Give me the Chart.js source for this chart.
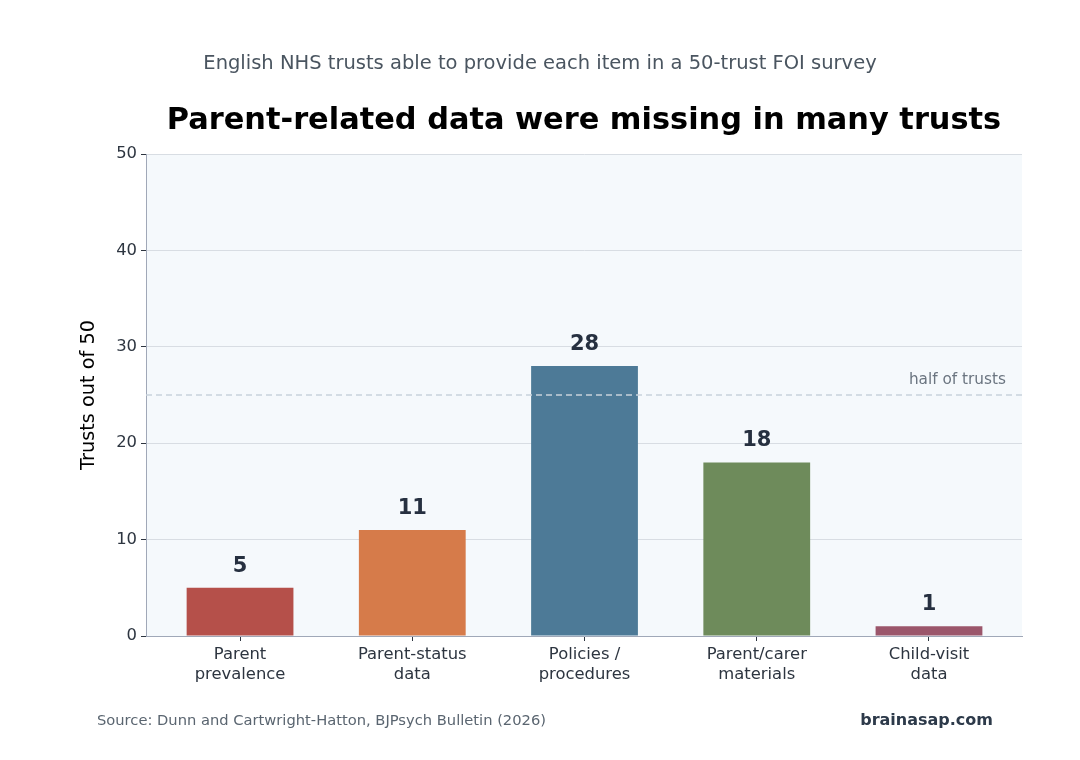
<!DOCTYPE html>
<html>
<head>
<meta charset="utf-8">
<script src="https://cdn.jsdelivr.net/npm/chart.js@4"></script>
<style>
  html, body { margin: 0; padding: 0; background: #ffffff; }
  #wrap { width: 1080px; height: 760px; position: relative; }
</style>
</head>
<body>
<div id="wrap"><canvas id="foiChart" width="1080" height="760"></canvas></div>
<script>
const categories = [['Parent', 'prevalence'], ['Parent-status', 'data'], ['Policies /', 'procedures'], ['Parent/carer', 'materials'], ['Child-visit', 'data']];
const trustCounts = [5, 11, 28, 18, 1];
const barColors = ['#b5504a', '#d67b4a', '#4d7a97', '#6e8b5b', '#9b566b'];
const yTicks = [0, 10, 20, 30, 40, 50];
const halfLine = 25;

const FONT = "'DejaVu Sans', sans-serif";

// background of the plot area, text around it, value labels and reference line
const decorations = {
    id: 'decorations',
    beforeDraw(chart) {
        const { ctx, chartArea: a } = chart;
        ctx.save();
        ctx.fillStyle = '#f5f9fc';
        ctx.fillRect(a.left, a.top, a.right - a.left, a.bottom - a.top);
        ctx.restore();
    },
    afterDatasetsDraw(chart) {
        const { ctx, chartArea: a, scales } = chart;
        ctx.save();
        // half of trusts
        const yHalf = scales.y.getPixelForValue(halfLine);
        ctx.strokeStyle = '#c8d2dc';
        ctx.lineWidth = 1.5;
        ctx.setLineDash([6, 4]);
        ctx.beginPath();
        ctx.moveTo(a.left, yHalf);
        ctx.lineTo(a.right, yHalf);
        ctx.stroke();
        ctx.setLineDash([]);
        ctx.fillStyle = '#6b7580';
        ctx.font = '15.3px ' + FONT;
        ctx.textAlign = 'right';
        ctx.textBaseline = 'bottom';
        ctx.fillText('half of trusts', a.right - 16, yHalf - 7);

        // value labels
        const meta = chart.getDatasetMeta(0);
        ctx.fillStyle = '#263040';
        ctx.font = 'bold 21px ' + FONT;
        ctx.textAlign = 'center';
        ctx.textBaseline = 'bottom';
        meta.data.forEach((bar, i) => {
            ctx.fillText(String(trustCounts[i]), bar.x, bar.y - 11);
        });
        ctx.restore();
    },
    afterDraw(chart) {
        const { ctx, chartArea: a } = chart;
        ctx.save();
        ctx.textBaseline = 'middle';
        ctx.textAlign = 'center';
        ctx.fillStyle = '#4a5560';
        ctx.font = '19.5px ' + FONT;
        ctx.fillText('English NHS trusts able to provide each item in a 50-trust FOI survey', 540, 64);

        ctx.fillStyle = '#000000';
        ctx.font = 'bold 30.4px ' + FONT;
        ctx.fillText('Parent-related data were missing in many trusts', (a.left + a.right) / 2, 121);

        // y axis title
        ctx.save();
        ctx.translate(89, (a.top + a.bottom) / 2);
        ctx.rotate(-Math.PI / 2);
        ctx.fillStyle = '#000000';
        ctx.font = '19.3px ' + FONT;
        ctx.fillText('Trusts out of 50', 0, 0);
        ctx.restore();

        ctx.textAlign = 'left';
        ctx.fillStyle = '#5a6570';
        ctx.font = '14.7px ' + FONT;
        ctx.fillText('Source: Dunn and Cartwright-Hatton, BJPsych Bulletin (2026)', 97, 721);
        ctx.textAlign = 'right';
        ctx.fillStyle = '#2d3a4a';
        ctx.font = 'bold 16px ' + FONT;
        ctx.fillText('brainasap.com', 993, 721);
        ctx.restore();
    }
};

new Chart(document.getElementById('foiChart').getContext('2d'), {
    type: 'bar',
    data: {
        datasets: [{
            data: trustCounts.map((v, i) => ({ x: i, y: v })),
            backgroundColor: barColors,
            borderWidth: 0,
            barPercentage: 0.62,
            categoryPercentage: 1.0
        }]
    },
    options: {
        responsive: false,
        animation: false,
        devicePixelRatio: 1,
        layout: { padding: { left: 0, right: 58, top: 154, bottom: 0 } },
        plugins: {
            legend: { display: false },
            tooltip: { enabled: false },
            title: { display: false }
        },
        scales: {
            x: {
                type: 'linear',
                offset: false,
                min: -0.546,
                max: categories.length - 1 + 0.54,
                afterFit(scale) { scale.height = 124; },
                afterBuildTicks(scale) { scale.ticks = categories.map((c, i) => ({ value: i })); },
                grid: { offset: false, drawOnChartArea: false, drawTicks: true, tickLength: 5, tickColor: '#2d3540' },
                border: { display: true, color: '#a0a8b8', width: 1 },
                ticks: {
                    color: '#2d3540',
                    font: { family: FONT, size: 16.4 },
                    padding: 4,
                    maxRotation: 0,
                    autoSkip: false,
                    callback: (value) => categories[value]
                }
            },
            y: {
                min: 0,
                max: 50,
                z: 1,
                afterFit(scale) { scale.width = 146; },
                afterBuildTicks(scale) { scale.ticks = yTicks.map(v => ({ value: v })); },
                grid: { color: '#d8dde3', lineWidth: 1, drawTicks: true, tickLength: 5, tickColor: '#2d3540' },
                border: { display: true, color: '#a0a8b8', width: 1 },
                ticks: { color: '#2d3540', font: { family: FONT, size: 16.4 }, padding: 4 }
            }
        }
    },
    plugins: [decorations]
});
</script>
</body>
</html>
